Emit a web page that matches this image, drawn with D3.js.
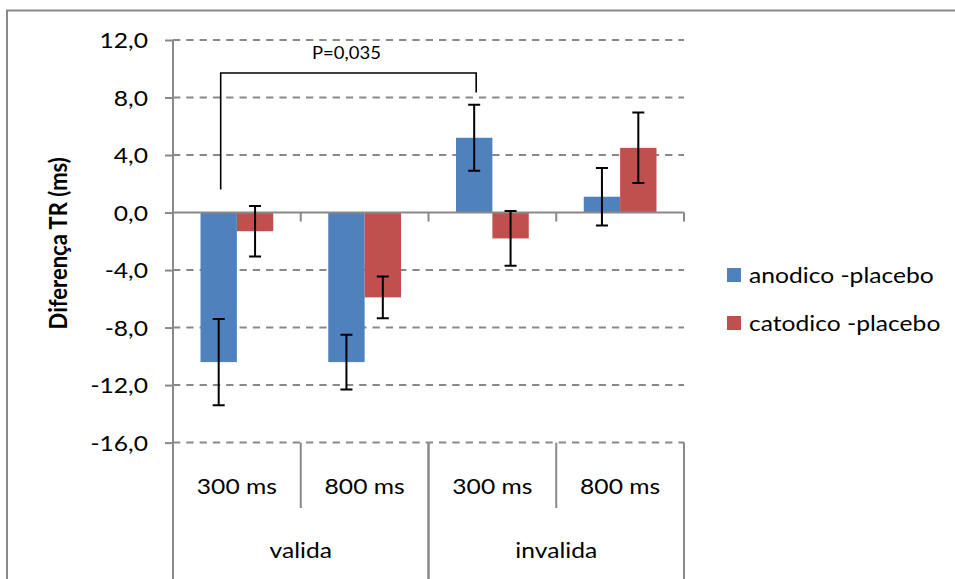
<!DOCTYPE html>
<html>
<head>
<meta charset="utf-8">
<script src="https://cdn.jsdelivr.net/npm/d3@7"></script>
<style>
  html, body { margin: 0; padding: 0; background: #fff; }
  svg { display: block; font-family: Lato, "Noto Sans", sans-serif; }
</style>
</head>
<body>
<svg id="chart" width="955" height="579"></svg>
<script>
// Two-level categories: cue type (group) and interval (sub-category)
const groups = ["valida", "invalida"];
const intervals = ["300 ms", "800 ms", "300 ms", "800 ms"];
const intervalGroup = [0, 0, 1, 1];

// Series: difference in reaction time vs. placebo (ms) and error bar half-widths
const seriesNames = ["anodico -placebo", "catodico -placebo"];
const seriesColors = ["#4f81bd", "#c0504d"];
const anodico = [-10.4, -10.4, 5.2, 1.1];
const anodicoErr = [3.0, 1.9, 2.3, 2.0];
const catodico = [-1.3, -5.9, -1.8, 4.5];
const catodicoErr = [1.75, 1.45, 1.9, 2.45];

// Y axis ticks
const yTicks = [-16, -12, -8, -4, 0, 4, 8, 12];

// Significance bracket between anodico 300 ms (valida) and anodico 300 ms (invalida)
const bracket = { from: 0, to: 2, top: 9.7, leftEnd: 1.6, rightEnd: 8.35, label: "P=0,035" };

const seriesValues = [anodico, catodico];
const seriesErrors = [anodicoErr, catodicoErr];

const svg = d3.select("#chart");
const gray = "#898989";
const FONT = "Lato, 'Noto Sans', sans-serif";
const WIDEN = 1.12; // horizontal glyph widening for the labels

// Place a text at (x, y), widened horizontally around its anchor point
function label(parent, x, y, str, size, anchor, extra) {
  const t = parent.append("text")
    .attr("transform", `translate(${x},${y}) scale(${WIDEN},1)`)
    .attr("text-anchor", anchor || "start")
    .attr("font-size", size).attr("font-family", FONT).attr("fill", "#000")
    .text(str);
  if (extra) extra(t);
  return t;
}

const plot = { left: 173, right: 684, top: 40, bottom: 442.6 };

const y = d3.scaleLinear().domain([-16, 12]).range([plot.bottom, plot.top]);
const catKeys = intervals.map((d, i) => i);
const x0 = d3.scaleBand().domain(catKeys).range([plot.left, plot.right]).paddingInner(0).paddingOuter(0);
const x1 = d3.scaleBand().domain(d3.range(seriesNames.length))
  .range([27.5, x0.bandwidth() - 27.5]).padding(0);

// Outer chart frame (left and top edges)
svg.append("path")
  .attr("d", "M7,579 V10.5 H955")
  .attr("fill", "none").attr("stroke", gray).attr("stroke-width", 2);

// Dashed horizontal gridlines
svg.append("g").selectAll("line")
  .data(yTicks.filter(t => t !== 0))
  .join("line")
  .attr("x1", plot.left).attr("x2", plot.right)
  .attr("y1", d => y(d)).attr("y2", d => y(d))
  .attr("stroke", gray).attr("stroke-width", 2)
  .attr("stroke-dasharray", "7.3,6");

// Y axis ticks and labels
const fmt = d => d3.format(".1f")(d).replace(".", ",").replace("\u2212", "-");
const yAxis = d3.axisLeft(y).tickValues(yTicks).tickSize(8).tickFormat(fmt);
const yg = svg.append("g").attr("transform", `translate(${plot.left},0)`).call(yAxis);
yg.select(".domain").remove();
yg.selectAll(".tick line").attr("stroke", gray).attr("stroke-width", 2);
yg.selectAll(".tick text").remove();
yg.selectAll(".tick").each(function (d) {
  label(d3.select(this), -25, 7.5, fmt(d), 22, "end");
});

// Vertical axis line (continues down through the category label area)
svg.append("line")
  .attr("x1", plot.left).attr("x2", plot.left)
  .attr("y1", plot.top).attr("y2", 579)
  .attr("stroke", gray).attr("stroke-width", 2);

// Y axis title
svg.append("text")
  .attr("transform", `translate(67,${(plot.top + plot.bottom) / 2 + 2}) rotate(-90) scale(1,${WIDEN})`)
  .attr("text-anchor", "middle")
  .attr("font-size", 22).attr("font-weight", "bold").attr("fill", "#000")
  .attr("font-family", FONT)
  .text("Diferença TR (ms)");

// Bars
const barG = svg.append("g");
seriesValues.forEach((vals, s) => {
  barG.selectAll(null)
    .data(vals)
    .join("rect")
    .attr("x", (d, i) => x0(i) + x1(s))
    .attr("width", x1.bandwidth())
    .attr("y", d => y(Math.max(0, d)))
    .attr("height", d => Math.abs(y(d) - y(0)))
    .attr("fill", seriesColors[s]);
});

// Zero line with category tick marks
svg.append("line")
  .attr("x1", plot.left).attr("x2", plot.right)
  .attr("y1", y(0)).attr("y2", y(0))
  .attr("stroke", gray).attr("stroke-width", 2);
svg.append("g").selectAll("line")
  .data(d3.range(1, intervals.length + 1))
  .join("line")
  .attr("x1", i => i < intervals.length ? x0(i) : plot.right)
  .attr("x2", i => i < intervals.length ? x0(i) : plot.right)
  .attr("y1", y(0)).attr("y2", y(0) + 9)
  .attr("stroke", gray).attr("stroke-width", 2);

// Error bars
const errG = svg.append("g").attr("stroke", "#000").attr("stroke-width", 2).attr("fill", "none");
seriesValues.forEach((vals, s) => {
  vals.forEach((v, i) => {
    const cx = x0(i) + x1(s) + x1.bandwidth() / 2;
    const e = seriesErrors[s][i];
    const yt = y(v + e), yb = y(v - e);
    errG.append("path")
      .attr("d", `M${cx},${yt} V${yb} M${cx - 6},${yt} H${cx + 6} M${cx - 6},${yb} H${cx + 6}`);
  });
});

// Significance bracket
const bx1 = x0(bracket.from) + x1(0) + x1.bandwidth() / 2 + 2;
const bx2 = x0(bracket.to) + x1(0) + x1.bandwidth() / 2 + 2;
svg.append("path")
  .attr("d", `M${bx1},${y(bracket.leftEnd)} V${y(bracket.top)} H${bx2} V${y(bracket.rightEnd)}`)
  .attr("fill", "none").attr("stroke", "#000").attr("stroke-width", 1.6);
label(svg, (bx1 + bx2) / 2 - 2, 59, bracket.label, 16.5, "middle");

// Multi-level category axis below the plot
const lowerTop = plot.bottom;
const catAxis = svg.append("g").attr("stroke", gray).attr("stroke-width", 2);
// Dividers between intervals within a group
d3.range(1, intervals.length).filter(i => intervalGroup[i] === intervalGroup[i - 1])
  .forEach(i => {
    catAxis.append("line").attr("x1", x0(i)).attr("x2", x0(i))
      .attr("y1", lowerTop).attr("y2", 508);
  });
// Group dividers (full height)
const groupBounds = groups.map((g, gi) => {
  const idx = intervalGroup.map((v, i) => v === gi ? i : -1).filter(i => i >= 0);
  return [x0(idx[0]), x0(idx[idx.length - 1]) + x0.bandwidth()];
});
groupBounds.forEach(([a, b]) => {
  [a, b].forEach(xv => {
    catAxis.append("line").attr("x1", xv).attr("x2", xv)
      .attr("y1", lowerTop).attr("y2", 579);
  });
});

const intervalLabels = svg.append("g");
intervals.forEach((d, i) => label(intervalLabels, x0(i) + x0.bandwidth() / 2, 494, d, 22, "middle"));

const groupLabels = svg.append("g");
groups.forEach((d, gi) => label(groupLabels, (groupBounds[gi][0] + groupBounds[gi][1]) / 2, 558, d, 22, "middle"));

// Legend
const legend = svg.append("g").attr("transform", "translate(727,268)");
seriesNames.forEach((name, s) => {
  const row = legend.append("g").attr("transform", `translate(0,${s * 48})`);
  row.append("rect").attr("width", 14).attr("height", 14).attr("fill", seriesColors[s]);
  label(row, 22, 15, name, 22, "start");
});
</script>
</body>
</html>
